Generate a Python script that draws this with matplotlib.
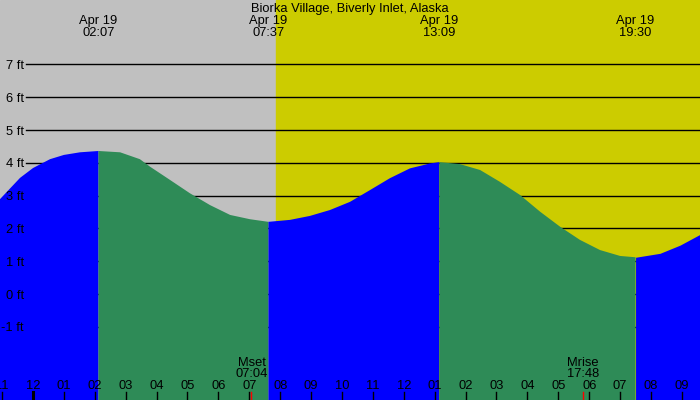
import matplotlib
matplotlib.use('Agg')
import matplotlib.pyplot as plt
import matplotlib.transforms as mtransforms

plt.rcParams['font.family'] = ['Liberation Sans', 'DejaVu Sans']

title = 'Biorka Village, Biverly Inlet, Alaska'
date_label = 'Apr 19'

# tide height (hours after midnight Apr 19, feet)
hours = [-1.07, -0.42, 0.0, 0.55, 1.0, 1.52, 2.12, 2.82, 3.46, 3.79, 4.43, 5.08,
         5.73, 6.38, 7.02, 7.62, 8.32, 8.96, 9.61, 10.26, 10.91, 11.55, 12.2,
         12.85, 13.15, 13.82, 14.47, 15.11, 15.76, 16.41, 17.06, 17.70, 18.35,
         19.0, 19.5, 20.29, 20.94, 21.59]
height = [2.89, 3.54, 3.84, 4.11, 4.24, 4.32, 4.36, 4.32, 4.11, 3.88, 3.48, 3.07,
          2.71, 2.41, 2.28, 2.20, 2.26, 2.38, 2.56, 2.81, 3.17, 3.53, 3.83,
          3.98, 4.02, 3.96, 3.78, 3.42, 3.02, 2.51, 2.05, 1.65, 1.34,
          1.16, 1.12, 1.24, 1.49, 1.82]

# high / low tides
extreme_times = [2.12, 7.62, 13.15, 19.5]
extreme_labels = ['02:07', '07:37', '13:09', '19:30']

# moon events
moon_names = ['Mset', 'Mrise']
moon_times = [7.07, 17.8]
moon_labels = ['07:04', '17:48']

sunrise = 7.87
feet = list(range(-1, 8))
hour_ticks = list(range(-1, 22))
fs = 9.3

fig = plt.figure(figsize=(7, 4), dpi=100)
ax = fig.add_axes([0, 0, 1, 1])
x0, x1 = -33 / 30.9, 667 / 30.9
ax.set_xlim(x0, x1)
ax.set_ylim(-106 / 32.8, 294 / 32.8)
ax.axis('off')

ax.axvspan(x0, sunrise, color='#C0C0C0', zorder=0)
ax.axvspan(sunrise, x1, color='#CCCC00', zorder=0)

# grid lines
for ft in feet:
    ax.axhline(ft, xmin=0.037, xmax=1, color='black', lw=1, zorder=1)

# tide fill, blue while rising, green while falling
idx = [0] + [hours.index(t) for t in extreme_times] + [len(hours) - 1]
for a, b in zip(idx[:-1], idx[1:]):
    col = '#0000FF' if height[b] > height[a] else '#2E8B57'
    ax.fill_between(hours[a:b + 1], height[a:b + 1], -10, color=col, lw=0, zorder=2)

ylab_tr = mtransforms.blended_transform_factory(ax.transAxes, ax.transData)
for ft in feet:
    ax.text(0.034, ft - 0.05, f'{ft} ft', transform=ylab_tr, ha='right', va='center',
            fontsize=fs, zorder=5)

xt = mtransforms.blended_transform_factory(ax.transData, ax.transAxes)
for h in hour_ticks:
    lw = 2.2 if h == 0 else 1
    ax.plot([h, h], [0, 0.02], transform=xt, color='black', lw=lw, zorder=4)
    lab = '%02d' % ((h - 1) % 12 + 1)
    ax.text(h, 0.034, lab, transform=xt, ha='center', va='center', fontsize=fs, zorder=5)

for name, t, lab in zip(moon_names, moon_times, moon_labels):
    ax.plot([t, t], [0, 0.02], transform=xt, color='red', lw=1, zorder=4)
    ax.text(t, 0.093, name, transform=xt, ha='center', va='center', fontsize=fs, zorder=5)
    ax.text(t, 0.0645, lab, transform=xt, ha='center', va='center', fontsize=fs, zorder=5)

for t, lab in zip(extreme_times, extreme_labels):
    ax.text(t, 0.947, date_label, transform=xt, ha='center', va='center', fontsize=fs, zorder=5)
    ax.text(t, 0.918, lab, transform=xt, ha='center', va='center', fontsize=fs, zorder=5)

ax.text(0.5, 0.978, title, transform=ax.transAxes, ha='center', va='center',
        fontsize=fs, zorder=5)

fig.savefig('out.png', dpi=100)
